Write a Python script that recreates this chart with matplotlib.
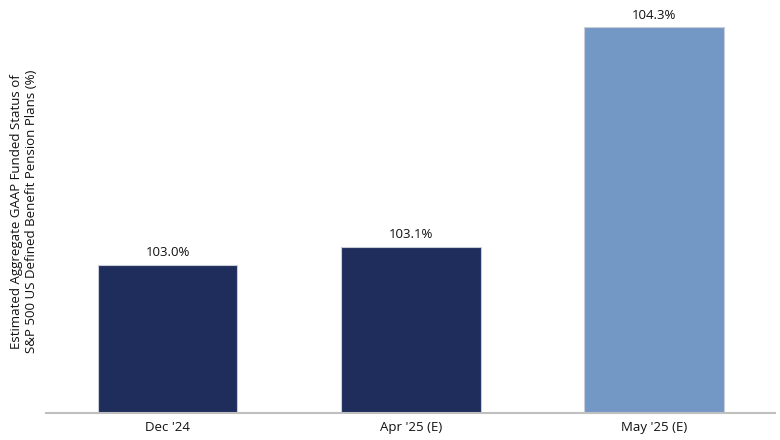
import matplotlib
matplotlib.use("Agg")
import matplotlib.pyplot as plt

# Données du graphique
categories = ["Dec '24", "Apr '25 (E)", "May '25 (E)"]
funded_status = [103.0, 103.1, 104.3]
bar_colors = ["#1f2d5c", "#1f2d5c", "#7498c5"]

plt.rcParams['font.family'] = ['Open Sans', 'DejaVu Sans']

fig = plt.figure(figsize=(7.8, 4.4), dpi=100)
ax = fig.add_axes([0.059, 0.062, 0.935, 0.915])

x = range(len(categories))
bars = ax.bar(x, funded_status, width=0.575, color=bar_colors,
              edgecolor="#c8cdd8", linewidth=0.8, bottom=0)

ax.set_ylim(102.19, 104.395)
ax.set_xlim(-0.5, 2.5)

for b, v in zip(bars, funded_status):
    ax.annotate(f"{v:.1f}%", (b.get_x() + b.get_width() / 2, v),
                xytext=(0, 4), textcoords="offset points",
                ha="center", va="bottom", fontsize=9.5, color="#111111")

ax.set_xticks(list(x))
ax.set_xticklabels(categories, fontsize=9.5, color="#111111")
ax.tick_params(axis="x", length=0, pad=6)
ax.set_yticks([])

for side in ["top", "right", "left"]:
    ax.spines[side].set_visible(False)
ax.spines["bottom"].set_color("#bfbfbf")
ax.spines["bottom"].set_linewidth(1.5)

ax.set_ylabel("Estimated Aggregate GAAP Funded Status of\nS&P 500 US Defined Benefit Pension Plans (%)",
              fontsize=9.5, color="#111111", labelpad=6)

fig.savefig("out.png", dpi=100)
